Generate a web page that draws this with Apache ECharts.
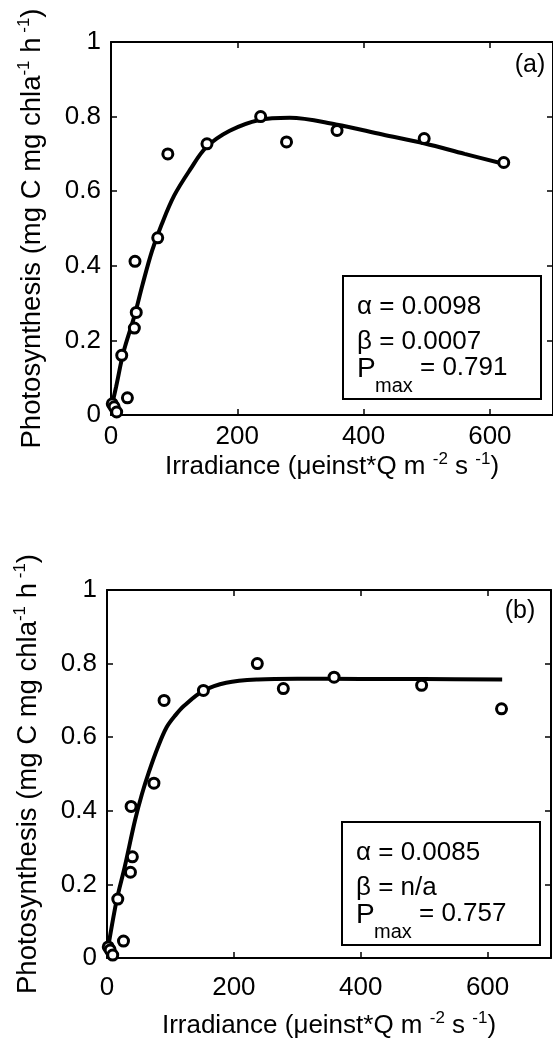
<!DOCTYPE html>
<html>
<head>
<meta charset="utf-8">
<script src="https://cdn.jsdelivr.net/npm/echarts/dist/echarts.min.js"></script>
<style>
html, body { margin: 0; background: #fff; }
#chart { width: 553px; height: 1046px; }
</style>
</head>
<body>
<div id="chart"></div>
<script>
// measured points (same data in both panels)
var irradiance = [2, 5, 9, 17, 26, 37, 38, 40, 74, 90, 152, 237, 278, 358, 496, 622];
var photosynthesis = [0.03, 0.022, 0.008, 0.16, 0.046, 0.233, 0.412, 0.275, 0.475, 0.70, 0.727, 0.80, 0.732, 0.763, 0.741, 0.677];

// fitted curve (a), with photoinhibition
var fitAX = [0, 8, 20, 37, 50, 65, 80, 100, 125, 151, 188, 235, 283, 356, 430, 497, 560, 623];
var fitAY = [0.015, 0.075, 0.17, 0.265, 0.35, 0.44, 0.51, 0.588, 0.657, 0.718, 0.762, 0.791, 0.797, 0.779, 0.752, 0.728, 0.70, 0.673];

// fitted curve (b), no photoinhibition
var fitBX = [0, 15, 28, 44, 55, 66, 80, 94, 108, 122, 152, 188, 238, 300, 400, 500, 623];
var fitBY = [0.01, 0.155, 0.248, 0.373, 0.445, 0.505, 0.572, 0.627, 0.66, 0.686, 0.726, 0.748, 0.757, 0.759, 0.758, 0.758, 0.757];

var boxA = ['\u03b1 = 0.0098', '\u03b2 = 0.0007', '= 0.791'];
var boxB = ['\u03b1 = 0.0085', '\u03b2 = n/a', '= 0.757'];

var font = '"Liberation Sans", Arial, sans-serif';

function pairs(xs, ys) {
  return xs.map(function (x, i) { return [x, ys[i]]; });
}

var grids = [
  { left: 111, top: 42, width: 444, height: 373 },
  { left: 107, top: 590, width: 444, height: 368 }
];

var supRich = {
  sup: { fontSize: 17, fontFamily: font, color: '#000', verticalAlign: 'top', lineHeight: 32 }
};

var lineStyle = { color: '#000', width: 2 };
var tickStyle = { show: true, inside: true, length: 6, lineStyle: { color: '#000', width: 1.5 } };

function xAxes(g, labelMargin, nameGap) {
  var base = {
    type: 'value', gridIndex: g, min: 0, max: 700, interval: 200,
    axisLine: { show: true, onZero: false, lineStyle: lineStyle },
    axisTick: tickStyle,
    splitLine: { show: false }
  };
  var bottom = Object.assign({}, base, {
    position: 'bottom',
    axisLabel: { show: true, showMaxLabel: false, margin: labelMargin, fontSize: 26, fontFamily: font, color: '#000' },
    name: 'Irradiance (\u03bceinst*Q m {sup|-2} s {sup|-1})',
    nameLocation: 'middle',
    nameGap: nameGap,
    nameTextStyle: { fontSize: 26, fontFamily: font, color: '#000', lineHeight: 32, rich: supRich }
  });
  var top = Object.assign({}, base, { position: 'top', axisLabel: { show: false } });
  return [bottom, top];
}

function yAxes(g) {
  var base = {
    type: 'value', gridIndex: g, min: 0, max: 1, interval: 0.2,
    axisLine: { show: true, onZero: false, lineStyle: lineStyle },
    axisTick: tickStyle,
    splitLine: { show: false }
  };
  var left = Object.assign({}, base, {
    position: 'left',
    axisLabel: { show: true, margin: 10, fontSize: 26, fontFamily: font, color: '#000' },
    name: 'Photosynthesis (mg C mg chla{sup|-1} h{sup| -1})',
    nameLocation: 'middle',
    nameGap: 63,
    nameTextStyle: { fontSize: 27.5, fontFamily: font, color: '#000', lineHeight: 32, rich: supRich }
  });
  var right = Object.assign({}, base, { position: 'right', axisLabel: { show: false } });
  return [left, right];
}

// legend box drawn as graphic, positions
function statBox(b, lines, tag, tagX, tagY) {
  var x = b.x, y = b.y;
  return [
    { type: 'rect', z: 50, shape: { x: x, y: y, width: 198, height: 123 },
      style: { fill: '#fff', stroke: '#000', lineWidth: 2 } },
    { type: 'text', z: 51, x: x + 14, y: y + 31,
      style: { text: lines[0], font: '26px ' + font, fill: '#000', verticalAlign: 'middle' } },
    { type: 'text', z: 51, x: x + 14, y: y + 66,
      style: { text: lines[1], font: '26px ' + font, fill: '#000', verticalAlign: 'middle' } },
    { type: 'text', z: 51, x: x + 14, y: y + 93,
      style: { text: 'P', font: '28px ' + font, fill: '#000', verticalAlign: 'middle' } },
    { type: 'text', z: 51, x: x + 32, y: y + 110,
      style: { text: 'max', font: '20px ' + font, fill: '#000', verticalAlign: 'middle' } },
    { type: 'text', z: 51, x: x + 77, y: y + 92,
      style: { text: lines[2], font: '26px ' + font, fill: '#000', verticalAlign: 'middle' } },
    { type: 'text', z: 51, x: tagX, y: tagY,
      style: { text: tag, font: '25px ' + font, fill: '#000', align: 'center', verticalAlign: 'middle' } }
  ];
}

var chart = echarts.init(document.getElementById('chart'));

var points = pairs(irradiance, photosynthesis);
var marker = { color: '#fff', borderColor: '#000', borderWidth: 3, opacity: 1 };

var option = {
  backgroundColor: '#fff',
  animation: false,
  grid: grids,
  xAxis: xAxes(0, 9, 34).concat(xAxes(1, 17, 52)),
  yAxis: yAxes(0).concat(yAxes(1)),
  series: [
    { type: 'line', xAxisIndex: 0, yAxisIndex: 0, data: pairs(fitAX, fitAY),
      smooth: 0.35, showSymbol: false, z: 2,
      lineStyle: { color: '#000', width: 4 } },
    { type: 'scatter', xAxisIndex: 0, yAxisIndex: 0, data: points, z: 3,
      symbol: 'circle', symbolSize: 10, itemStyle: marker },
    { type: 'line', xAxisIndex: 2, yAxisIndex: 2, data: pairs(fitBX, fitBY),
      smooth: 0.35, showSymbol: false, z: 2,
      lineStyle: { color: '#000', width: 4 } },
    { type: 'scatter', xAxisIndex: 2, yAxisIndex: 2, data: points, z: 3,
      symbol: 'circle', symbolSize: 10, itemStyle: marker }
  ],
  graphic: statBox({ x: 343, y: 276 }, boxA, '(a)', 530, 65)
    .concat(statBox({ x: 342, y: 822 }, boxB, '(b)', 520, 611))
};

chart.setOption(option);
</script>
</body>
</html>
